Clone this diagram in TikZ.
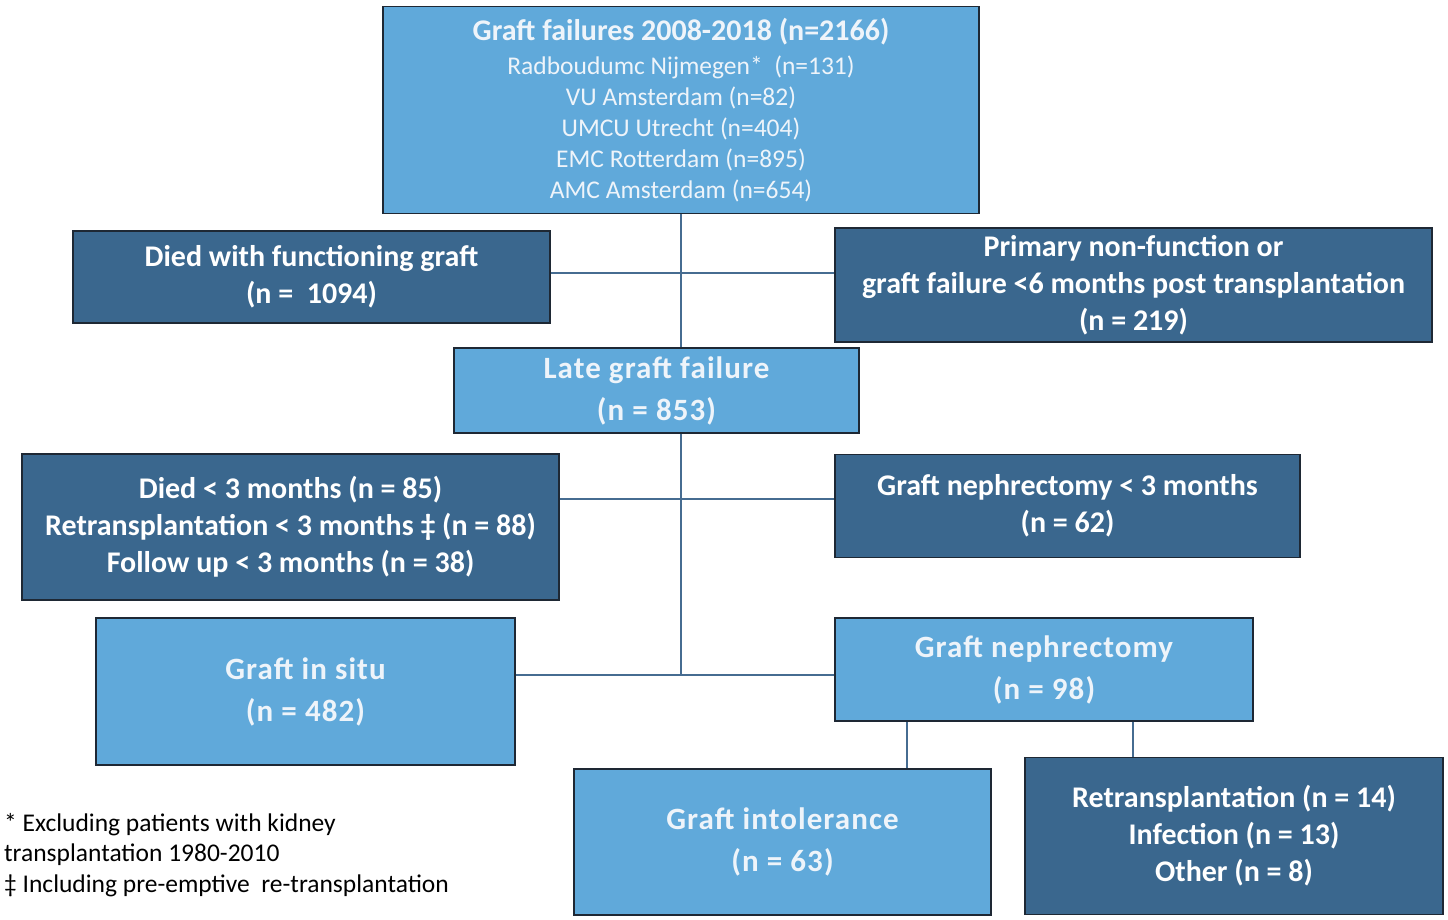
\documentclass[tikz,border=0pt]{standalone}
\usepackage{fontspec}
\setmainfont{Carlito}
\newfontfamily\spacedfont{Carlito}[LetterSpace=3.5]
\usetikzlibrary{backgrounds}
\definecolor{lightbox}{RGB}{96,169,218}
\definecolor{darkbox}{RGB}{58,103,142}
\definecolor{boxline}{RGB}{30,40,52}
\definecolor{conn}{RGB}{70,108,145}
\definecolor{lighttext}{RGB}{238,244,250}
\tikzset{
  lbox/.style={draw=boxline, line width=1.2pt, fill=lightbox, text=lighttext, inner sep=0pt, align=center,
     font=\spacedfont\bfseries\fontsize{31}{42}\selectfont},
  topbox/.style={draw=boxline, line width=1.2pt, fill=lightbox, text=lighttext, inner sep=0pt, align=center,
     font=\fontsize{25.5}{31}\selectfont},
  dbox/.style={draw=boxline, line width=1.2pt, fill=darkbox, text=white, inner sep=0pt, align=center,
     font=\fontsize{30}{37}\selectfont\bfseries},
  conline/.style={draw=conn, line width=1.3pt},
  note/.style={inner sep=0pt, align=left, text=black, font=\fontsize{25.5}{30.5}\selectfont}
}
\begin{document}
\begin{tikzpicture}[x=1pt,y=-1pt]
\useasboundingbox (0,0) rectangle (1448,919);
\node[topbox, minimum width=596, minimum height=207] (top) at (681,110)
  {{\fontsize{30}{31}\selectfont\bfseries Graft failures 2008-2018 (n=2166)}\\[3pt]
   Radboudumc\ Nijmegen*\ \ (n=131)\\
   VU Amsterdam (n=82)\\
   UMCU Utrecht (n=404)\\
   EMC Rotterdam\ (n=895)\\
   AMC Amsterdam\ (n=654)};
\node[dbox, minimum width=477, minimum height=92] (died) at (311.5,277)
  {Died with functioning graft\\(n =\ \ 1094)};
\node[dbox, minimum width=597, minimum height=114] (primary) at (1133.5,285)
  {Primary non-function or\\graft failure {<}6 months post transplantation\\(n = 219)};
\node[lbox, minimum width=405, minimum height=85] (late) at (656.5,390.5)
  {Late graft failure\\(n = 853)};
\node[dbox, minimum width=537, minimum height=146] (died3) at (290.5,527)
  {Died {<} 3 months (n = 85)\\Retransplantation {<} 3 months ‡ (n = 88)\\Follow up {<} 3 months (n = 38)};
\node[dbox, minimum width=465, minimum height=103] (nx3) at (1067.5,506)
  {Graft nephrectomy {<} 3 months\\(n = 62)};
\node[lbox, minimum width=419, minimum height=147] (situ) at (305.5,691.5)
  {Graft in situ\\(n = 482)};
\node[lbox, minimum width=418, minimum height=103] (nx) at (1044,669.5)
  {Graft nephrectomy\\(n = 98)};
\node[lbox, minimum width=417, minimum height=146] (intol) at (782.5,842)
  {Graft intolerance\\(n = 63)};
\node[dbox, minimum width=418, minimum height=157] (retx) at (1234,836)
  {Retransplantation (n = 14)\\Infection (n = 13)\\Other (n = 8)};
\node[note, anchor=west] (fn) at (4,855)
  {* Excluding patients with kidney\\transplantation 1980-2010\\‡ Including pre-emptive\ \ re-transplantation};
\coordinate (j1) at (681,273);
\coordinate (j2) at (681,499);
\coordinate (j3) at (681,675);
\coordinate (a1) at (907,0);
\coordinate (a2) at (1133,0);
\begin{scope}[on background layer]
\fill[white] (0,0) rectangle (1448,919);
\draw[conline] (top.south) -- (j3);
\draw[conline] (died.east |- j1) -- (primary.west |- j1);
\draw[conline] (died3.east |- j2) -- (nx3.west |- j2);
\draw[conline] (situ.east |- j3) -- (nx.west |- j3);
\draw[conline] (nx.south -| a1) -- (intol.north -| a1);
\draw[conline] (nx.south -| a2) -- (retx.north -| a2);
\end{scope}
\end{tikzpicture}
\end{document}
